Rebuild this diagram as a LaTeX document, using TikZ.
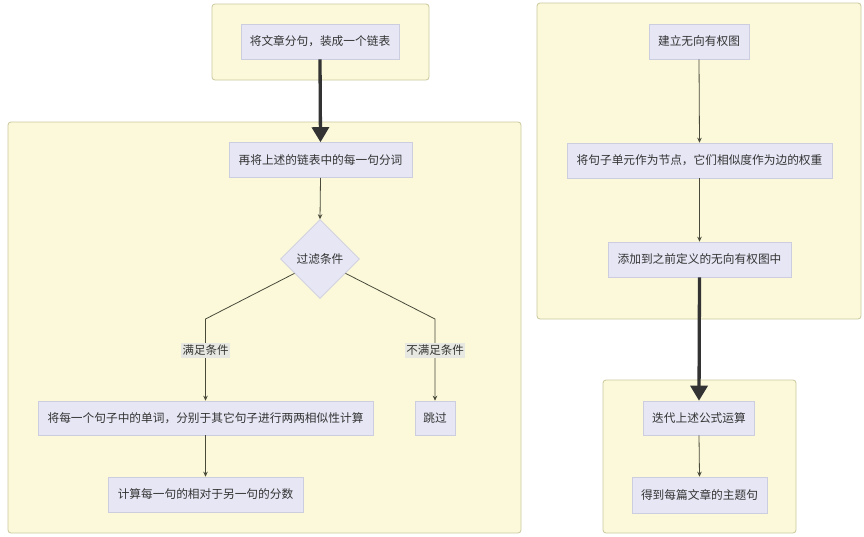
\documentclass[tikz,border=0pt]{standalone}
\usepackage{fontspec}
\setmainfont{Noto Sans CJK SC}
\usetikzlibrary{shapes.geometric,arrows.meta,calc}
\definecolor{clfill}{HTML}{FBF9DA}
\definecolor{cldraw}{HTML}{C9C79C}
\definecolor{ndfill}{HTML}{E6E6F5}
\definecolor{nddraw}{HTML}{CDCDE0}
\definecolor{txt}{HTML}{333333}
\definecolor{edge}{HTML}{4A4A3A}
\definecolor{lblfill}{HTML}{E8E8E2}
\tikzset{
  cluster/.style={draw=cldraw,fill=clfill,line width=0.8pt,rounded corners=3pt},
  nodebox/.style={draw=nddraw,fill=ndfill,line width=0.6pt,minimum height=35pt,inner sep=0pt,
    font=\fontsize{11.7pt}{14pt}\selectfont,text=txt},
  decision/.style={diamond,aspect=1,draw=nddraw,fill=ndfill,line width=0.6pt,minimum width=79pt,minimum height=79pt,inner sep=0pt,
    font=\fontsize{11.7pt}{14pt}\selectfont,text=txt},
  thin/.style={draw=edge,line width=0.8pt,-{Stealth[length=5pt,width=4.5pt]}},
  thick/.style={draw=black!80,line width=3.3pt,-{Triangle[length=15pt,width=17pt]}},
  lbl/.style={fill=lblfill,inner sep=1.5pt,minimum width=47pt,minimum height=15pt,font=\fontsize{11.5pt}{13pt}\selectfont,text=txt}
}
\begin{document}
\begin{tikzpicture}[x=1pt,y=-1pt]
\useasboundingbox (0,0) rectangle (864,536);
% clusters
\draw[cluster] (212,4) rectangle (429,80);
\draw[cluster] (8,122) rectangle (521,533);
\draw[cluster] (537,3) rectangle (861,319);
\draw[cluster] (603,380) rectangle (796,533);
% left nodes
\node[nodebox,minimum width=158pt] (n1) at (320,41.5) {将文章分句，装成一个链表};
\node[nodebox,minimum width=183pt] (n2) at (320.5,160) {再将上述的链表中的每一句分词};
\node[decision] (dia) at (320,259) {过滤条件};
\node[nodebox,minimum width=335pt,minimum height=34pt] (n3) at (205.5,418) {将每一个句子中的单词，分别于其它句子进行两两相似性计算};
\node[nodebox,minimum width=40pt,minimum height=34pt] (skip) at (435,418) {跳过};
\node[nodebox,minimum width=195pt] (n4) at (205.5,494.5) {计算每一句的相对于另一句的分数};
% right nodes
\node[nodebox,minimum width=100pt] (a) at (699,41.5) {建立无向有权图};
\node[nodebox,minimum width=265pt] (b) at (699.5,160.5) {将句子单元作为节点，它们相似度作为边的权重};
\node[nodebox,minimum width=183pt] (c) at (699.5,259.5) {添加到之前定义的无向有权图中};
\node[nodebox,minimum width=111pt,minimum height=34pt] (d) at (699,418) {迭代上述公式运算};
\node[nodebox,minimum width=135pt,minimum height=36pt] (e) at (699.5,495) {得到每篇文章的主题句};
% bend coordinates
\coordinate (lstart) at ($(dia.west)!0.36!(dia.south)$);
\coordinate (rstart) at ($(dia.east)!0.36!(dia.south)$);
\coordinate (lbend) at (205.5,319);
\coordinate (rbend) at (435,319);
% edges
\draw[thick] (n1.south) -- (n2.north);
\draw[thin] (n2.south) -- (dia.north);
\draw[thin] (lstart) -- (lbend) -- (n3.north);
\draw[thin] (rstart) -- (rbend) -- (skip.north);
\node[lbl] (l1) at (205.5,350) {满足条件};
\node[lbl,minimum width=58pt] (l2) at (435,350) {不满足条件};
\draw[thin] (n3.south) -- (n4.north);
\draw[thin] (a.south) -- (b.north);
\draw[thin] (b.south) -- (c.north);
\draw[thick] (c.south) -- (d.north);
\draw[thin] (d.south) -- (e.north);
\end{tikzpicture}
\end{document}
